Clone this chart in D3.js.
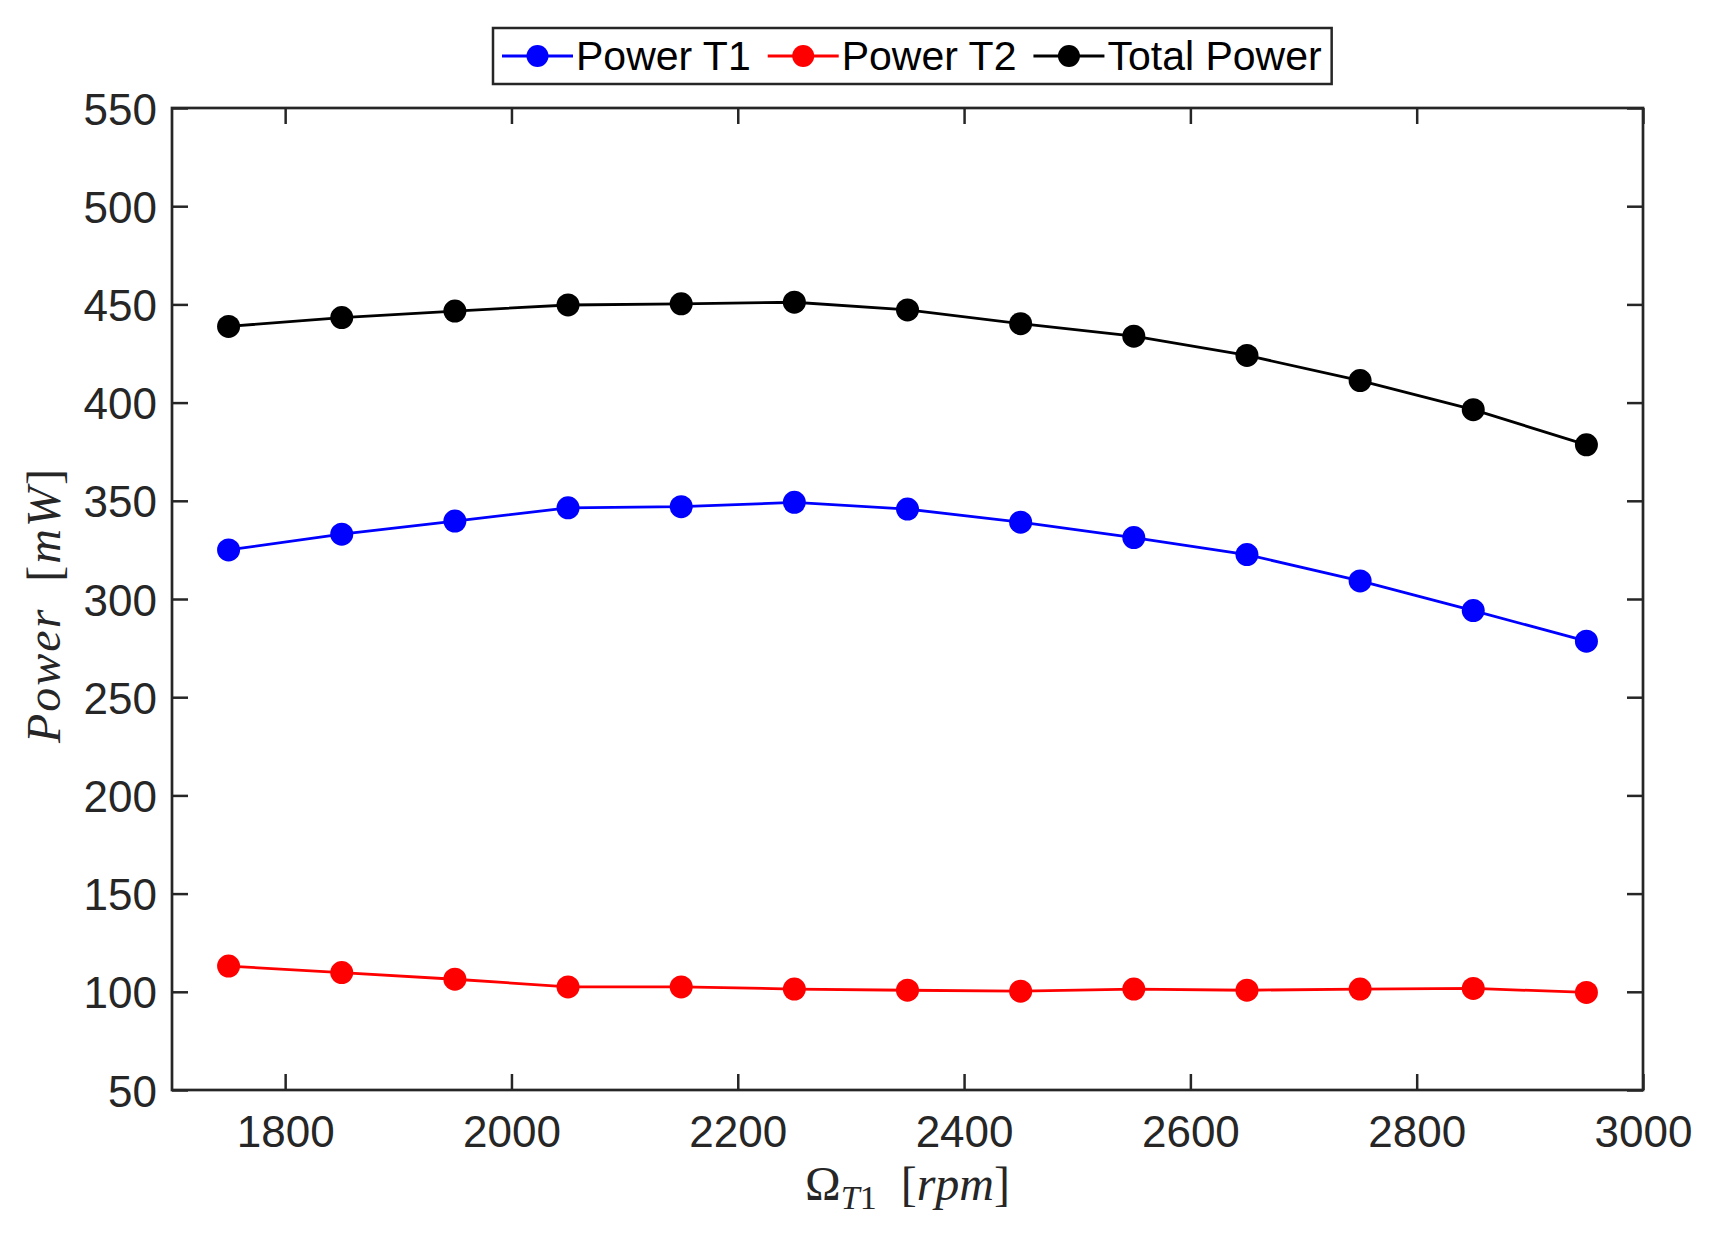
<!DOCTYPE html>
<html lang="en">
<head>
    <meta charset="UTF-8">
    <title>Power vs rotational speed</title>
    <script src="https://d3js.org/d3.v7.min.js"></script>
    <style>
        body {
            margin: 0;
            background: #fff;
        }
        svg text {
            fill: #262626;
        }
        .tick-label {
            font-family: "Liberation Sans", Arial, sans-serif;
            font-size: 44px;
        }
        .legend-label {
            font-family: "Liberation Sans", Arial, sans-serif;
            font-size: 41px;
        }
        .axis-title {
            font-family: "Liberation Serif", "Times New Roman", serif;
            font-size: 48px;
        }
    </style>
</head>
<body>
    <div id="chart"></div>

    <script>
        // Data
        const speeds = [1750, 1850, 1950, 2050, 2150, 2250, 2350, 2450, 2550, 2650, 2750, 2850, 2950];
        const powerT1 = [325, 333, 339.7, 346.4, 347, 349.2, 345.8, 339.1, 331.3, 322.6, 309.2, 294.1, 278.5];
        const powerT2 = [113.1, 109.8, 106.4, 102.5, 102.5, 101.4, 100.8, 100.3, 101.4, 100.8, 101.4, 101.7, 99.7];
        const totalPower = [438.8, 443.3, 446.6, 449.7, 450.3, 451.1, 447.2, 440.2, 433.8, 424, 411.2, 396.4, 378.5];
        const xTicks = [1800, 2000, 2200, 2400, 2600, 2800, 3000];
        const yTicks = [50, 100, 150, 200, 250, 300, 350, 400, 450, 500, 550];
        const seriesNames = ['Power T1', 'Power T2', 'Total Power'];
        const seriesColors = ['#0000ff', '#ff0000', '#000000'];

        const width = 1719, height = 1233;
        const plot = { left: 172, right: 1643, top: 108, bottom: 1090 };
        const axisColor = '#262626';
        const tickLen = 16;

        const svg = d3.select('#chart')
            .append('svg')
            .attr('width', width)
            .attr('height', height)
            .style('display', 'block');

        svg.append('rect')
            .attr('width', width)
            .attr('height', height)
            .attr('fill', '#fff');

        // Scales
        const x = d3.scaleLinear().domain([1700, 3000]).range([plot.left, plot.right]);
        const y = d3.scaleLinear().domain([50, 550]).range([plot.bottom, plot.top]);

        // Axes (ticks point inward, on all four sides)
        const axisBottom = svg.append('g')
            .attr('transform', `translate(0, ${plot.bottom})`)
            .call(d3.axisBottom(x).tickValues(xTicks).tickFormat(d3.format('d'))
                .tickSizeInner(-tickLen).tickSizeOuter(0));
        const axisTop = svg.append('g')
            .attr('transform', `translate(0, ${plot.top})`)
            .call(d3.axisTop(x).tickValues(xTicks).tickSizeInner(-tickLen).tickSizeOuter(0).tickFormat(''));
        const axisLeft = svg.append('g')
            .attr('transform', `translate(${plot.left}, 0)`)
            .call(d3.axisLeft(y).tickValues(yTicks).tickSizeInner(-tickLen).tickSizeOuter(0).tickPadding(15));
        const axisRight = svg.append('g')
            .attr('transform', `translate(${plot.right}, 0)`)
            .call(d3.axisRight(y).tickValues(yTicks).tickSizeInner(-tickLen).tickSizeOuter(0).tickFormat(''));

        [axisBottom, axisTop, axisLeft, axisRight].forEach(g => {
            g.select('.domain').remove();
            g.selectAll('.tick line')
                .attr('stroke', axisColor)
                .attr('stroke-width', 2.5);
        });

        axisBottom.selectAll('.tick text')
            .attr('class', 'tick-label')
            .attr('fill', axisColor)
            .attr('dy', null)
            .attr('y', 57);

        axisLeft.selectAll('.tick text')
            .attr('class', 'tick-label')
            .attr('fill', axisColor)
            .attr('dy', null)
            .attr('y', 16);

        svg.selectAll('g').attr('font-family', null).attr('font-size', null);

        // Box
        svg.append('rect')
            .attr('x', plot.left)
            .attr('y', plot.top)
            .attr('width', plot.right - plot.left)
            .attr('height', plot.bottom - plot.top)
            .attr('fill', 'none')
            .attr('stroke', axisColor)
            .attr('stroke-width', 2.7);

        // Series
        const allSeries = [powerT1, powerT2, totalPower];
        const line = d3.line()
            .x((d, i) => x(speeds[i]))
            .y(d => y(d));

        allSeries.forEach((values, s) => {
            svg.append('path')
                .datum(values)
                .attr('fill', 'none')
                .attr('stroke', seriesColors[s])
                .attr('stroke-width', 2.8)
                .attr('d', line);

            svg.append('g')
                .selectAll('circle')
                .data(values)
                .join('circle')
                .attr('cx', (d, i) => x(speeds[i]))
                .attr('cy', d => y(d))
                .attr('r', 11.5)
                .attr('fill', seriesColors[s]);
        });

        // Axis titles
        const xTitle = svg.append('text')
            .attr('class', 'axis-title')
            .attr('x', (plot.left + plot.right) / 2)
            .attr('y', 1200)
            .attr('text-anchor', 'middle');
        xTitle.append('tspan').text('Ω');
        xTitle.append('tspan').attr('font-style', 'italic').attr('font-size', 34).attr('dy', 9).text('T');
        xTitle.append('tspan').attr('font-size', 34).text('1');
        xTitle.append('tspan').attr('dy', -9).text('\u2002[');
        xTitle.append('tspan').attr('font-style', 'italic').text('rpm');
        xTitle.append('tspan').text(']');

        const yTitle = svg.append('text')
            .attr('class', 'axis-title')
            .attr('transform', `translate(60, 605) rotate(-90)`)
            .attr('text-anchor', 'middle')
            .attr('letter-spacing', 2);
        yTitle.append('tspan').attr('font-style', 'italic').text('Power');
        yTitle.append('tspan').text('\u2002[');
        yTitle.append('tspan').attr('font-style', 'italic').text('mW');
        yTitle.append('tspan').text(']');

        // Legend
        const legend = svg.append('g');
        const legendBox = legend.append('rect')
            .attr('fill', '#fff')
            .attr('stroke', axisColor)
            .attr('stroke-width', 2.5);
        const legendLeft = 493, legendTop = 28, legendBottom = 84;
        const legendMid = (legendTop + legendBottom) / 2;
        const gap = 17;
        let cursor = legendLeft + 9;
        seriesNames.forEach((name, s) => {
            legend.append('line')
                .attr('x1', cursor)
                .attr('x2', cursor + 71)
                .attr('y1', legendMid)
                .attr('y2', legendMid)
                .attr('stroke', seriesColors[s])
                .attr('stroke-width', 2.8);
            legend.append('circle')
                .attr('cx', cursor + 35.5)
                .attr('cy', legendMid)
                .attr('r', 11)
                .attr('fill', seriesColors[s]);
            const label = legend.append('text')
                .attr('class', 'legend-label')
                .attr('x', cursor + 74)
                .attr('y', legendMid + 14)
                .style('fill', '#000')
                .text(name);
            cursor += 74 + label.node().getComputedTextLength() + gap;
        });
        legendBox
            .attr('x', legendLeft)
            .attr('y', legendTop)
            .attr('width', cursor - gap + 10 - legendLeft)
            .attr('height', legendBottom - legendTop);
    </script>
</body>
</html>
